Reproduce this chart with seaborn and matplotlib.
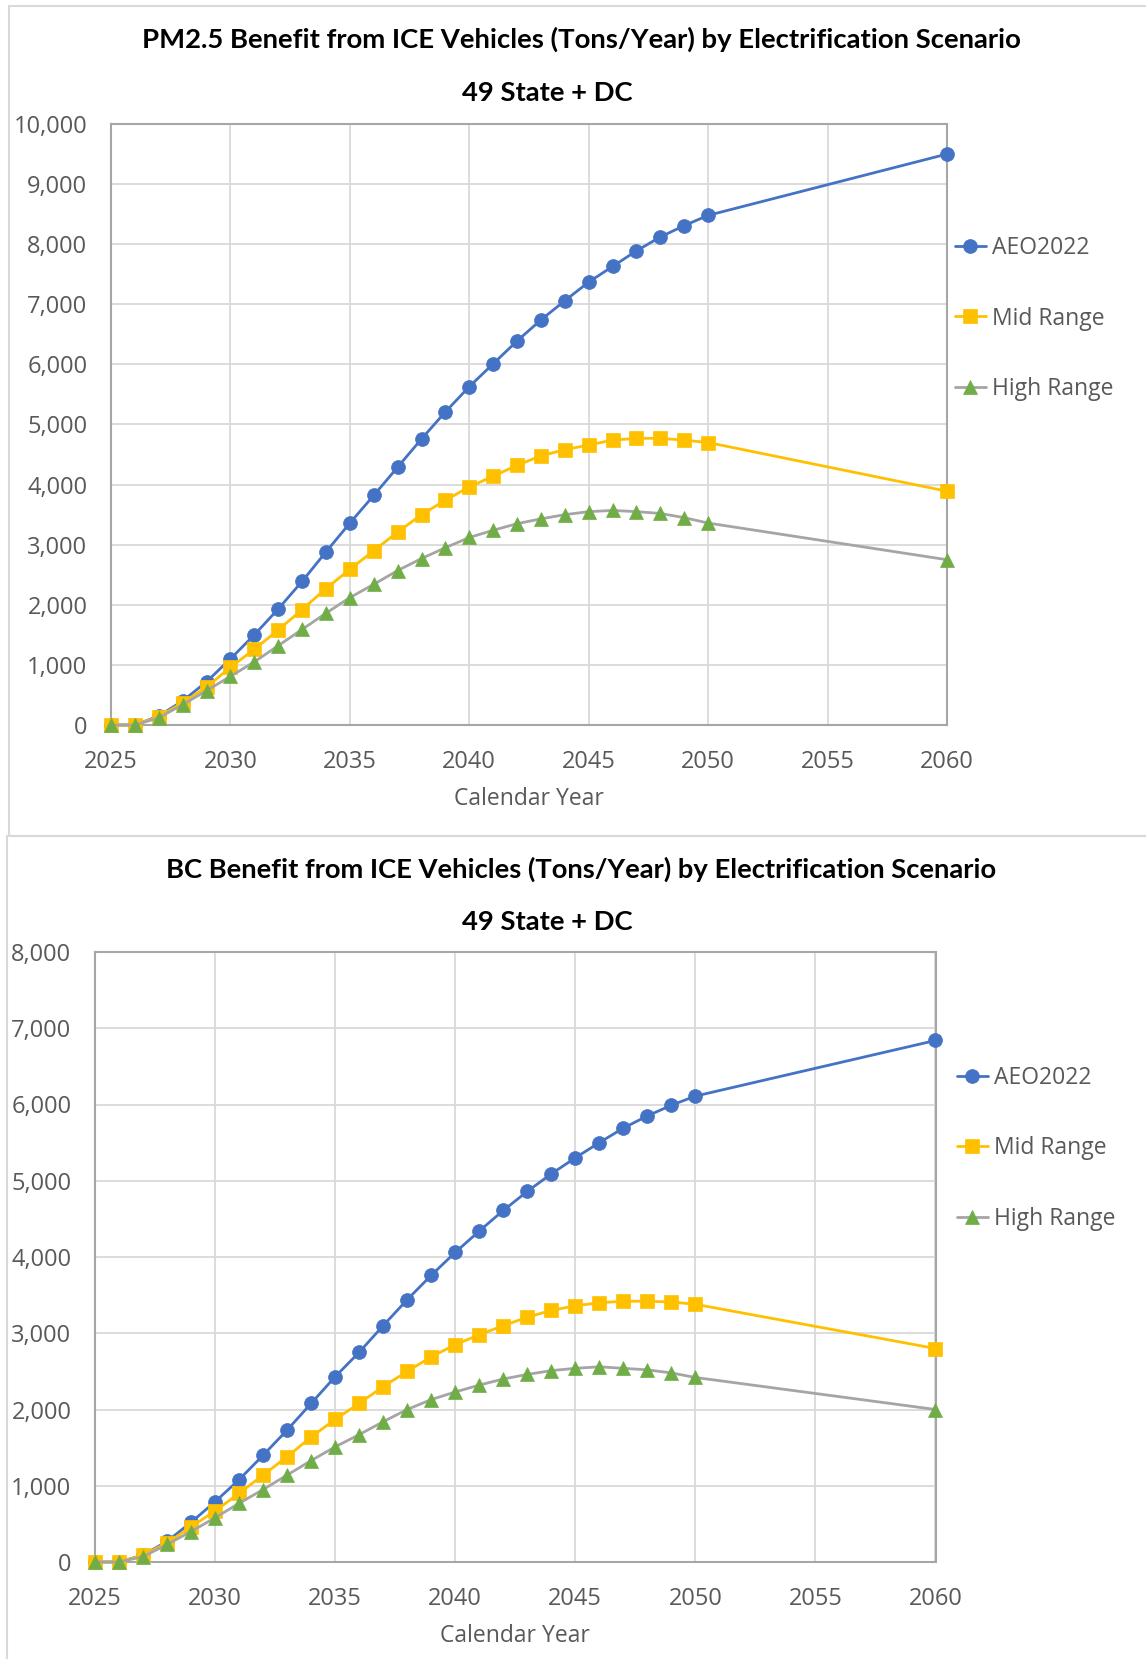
import matplotlib
matplotlib.use("Agg")
import matplotlib.pyplot as plt
from matplotlib.patches import Rectangle
from matplotlib.ticker import FuncFormatter, MultipleLocator
import pandas as pd
import seaborn as sns

# ---- data -------------------------------------------------------------
years = list(range(2025, 2051)) + [2060]
scenarios = ["AEO2022", "Mid Range", "High Range"]

pm_aeo = [0, 0, 150, 400, 720, 1100, 1500, 1930, 2390, 2880,
          3360, 3820, 4290, 4760, 5210, 5630, 6010, 6390, 6740, 7060,
          7370, 7630, 7890, 8120, 8310, 8480, 9500]
pm_mid = [0, 0, 140, 370, 630, 960, 1260, 1580, 1920, 2270,
          2590, 2900, 3210, 3500, 3740, 3960, 4140, 4320, 4480, 4580,
          4660, 4740, 4770, 4770, 4740, 4700, 3890]
pm_high = [0, 0, 120, 340, 570, 810, 1050, 1320, 1590, 1860,
           2120, 2340, 2570, 2770, 2950, 3120, 3240, 3350, 3430, 3500,
           3550, 3570, 3550, 3520, 3450, 3360, 2750]

bc_aeo = [0, 0, 90, 270, 520, 790, 1080, 1400, 1730, 2080,
          2430, 2750, 3100, 3440, 3760, 4060, 4340, 4610, 4860, 5090,
          5300, 5500, 5690, 5850, 5990, 6110, 6840]
bc_mid = [0, 0, 90, 250, 460, 670, 900, 1140, 1380, 1640,
          1870, 2080, 2300, 2500, 2690, 2850, 2980, 3100, 3210, 3300,
          3360, 3400, 3420, 3420, 3410, 3380, 2800]
bc_high = [0, 0, 70, 230, 400, 580, 770, 950, 1140, 1330,
           1510, 1670, 1840, 2000, 2130, 2230, 2320, 2400, 2460, 2510,
           2540, 2560, 2540, 2520, 2480, 2420, 2000]

x_ticks = [2025, 2030, 2035, 2040, 2045, 2050, 2055, 2060]
pm_title = "PM2.5 Benefit from ICE Vehicles (Tons/Year) by Electrification Scenario"
bc_title = "BC Benefit from ICE Vehicles (Tons/Year) by Electrification Scenario"
subtitle = "49 State + DC"
x_label = "Calendar Year"

# ---- styling ----------------------------------------------------------
sns.set_theme(style="white")
plt.rcParams["font.family"] = ["Open Sans", "DejaVu Sans"]

W, H = 1146, 1659
fig = plt.figure(figsize=(W / 100, H / 100), dpi=100)
fig.patch.set_facecolor("white")

TXT = "#595959"
GRID = "#d9d9d9"
SPINE = "#a6a6a6"
FS = 16.5
TICK_FS = 17

series_style = {
    "AEO2022": dict(color="#4472C4", marker="o", mfc="#4472C4", ms=10),
    "Mid Range": dict(color="#FFC000", marker="s", mfc="#FFC000", ms=10),
    "High Range": dict(color="#A5A5A5", marker="^", mfc="#70AD47", ms=10),
}


def px_box(left, top, right, bottom):
    """Figure-fraction rectangle from pixel edges."""
    return [left / W, 1 - bottom / H, (right - left) / W, (bottom - top) / H]


def draw_panel(box, values, ymax, title, title_y, sub_y, legend_x, legend_y,
               xlabel_x, xlabel_y):
    ax = fig.add_axes(px_box(*box))
    df = pd.DataFrame({
        "year": years * 3,
        "value": values[0] + values[1] + values[2],
        "scenario": sum([[s] * len(years) for s in scenarios], []),
    })
    for name in scenarios:
        st = series_style[name]
        sub = df[df["scenario"] == name]
        sns.lineplot(data=sub, x="year", y="value", ax=ax, color=st["color"],
                     marker=st["marker"], markersize=st["ms"],
                     markerfacecolor=st["mfc"], markeredgecolor=st["mfc"],
                     markeredgewidth=0.5, linewidth=2.0, label=name,
                     clip_on=False, zorder=3)
    ax.set_xlim(2025, 2060)
    ax.set_ylim(0, ymax)
    ax.set_xticks(x_ticks)
    ax.yaxis.set_major_locator(MultipleLocator(1000))
    ax.yaxis.set_major_formatter(FuncFormatter(lambda v, p: f"{int(v):,}"))
    ax.grid(True, color=GRID, linewidth=1.3)
    ax.set_axisbelow(True)
    for sp in ax.spines.values():
        sp.set_color(SPINE)
        sp.set_linewidth(1.5)
    ax.tick_params(axis="both", length=0, labelsize=TICK_FS, labelcolor=TXT)
    ax.tick_params(axis="y", pad=17)
    ax.tick_params(axis="x", pad=18)
    ax.set_xlabel("")
    ax.set_ylabel("")

    # axis title
    fig.text(xlabel_x / W, 1 - xlabel_y / H, x_label,
             ha="center", va="center", fontsize=FS, color=TXT)

    # chart titles
    t = fig.text(581 / W, 1 - title_y / H, title,
                 ha="center", va="center", fontsize=18, fontweight="bold",
                 color="black", family=["Lato", "DejaVu Sans"])
    s = fig.text(547 / W, 1 - sub_y / H, subtitle, ha="center", va="center",
                 fontsize=18, fontweight="bold", color="black",
                 family=["Lato", "DejaVu Sans"])

    handles, labels = ax.get_legend_handles_labels()
    ax.legend(handles, labels, loc="center left",
              bbox_to_anchor=(legend_x / W, 1 - legend_y / H),
              bbox_transform=fig.transFigure, frameon=False, fontsize=FS,
              labelcolor=TXT, handlelength=1.35, handletextpad=0.25,
              labelspacing=2.05, borderpad=0, borderaxespad=0)
    return t, s


t1, s1 = draw_panel((111, 124, 947, 725), [pm_aeo, pm_mid, pm_high], 10000,
                    pm_title, 39, 93, 955, 318.5, 529, 799)
t2, s2 = draw_panel((95, 952, 935.5, 1562), [bc_aeo, bc_mid, bc_high], 8000,
                    bc_title, 869, 922, 957, 1148.5, 515, 1636)

# fit the title widths
fig.canvas.draw()
r = fig.canvas.get_renderer()
for t, target in [(t1, 880), (t2, 834)]:
    w = t.get_window_extent(r).width
    t.set_fontsize(t.get_fontsize() * target / w)
s1.set_fontsize(t1.get_fontsize())
s2.set_fontsize(t1.get_fontsize())

# chart-area borders
fig.add_artist(Rectangle((8.5 / W, 1 - 836 / H), 1.2, (836 - 5.5) / H,
                         transform=fig.transFigure, fill=False,
                         edgecolor=GRID, linewidth=1.5))
fig.add_artist(Rectangle((7 / W, -0.2), 1.2, 0.2 + (1 - 836 / H),
                         transform=fig.transFigure, fill=False,
                         edgecolor=GRID, linewidth=1.5))

fig.savefig("out.png", dpi=100, facecolor="white")
